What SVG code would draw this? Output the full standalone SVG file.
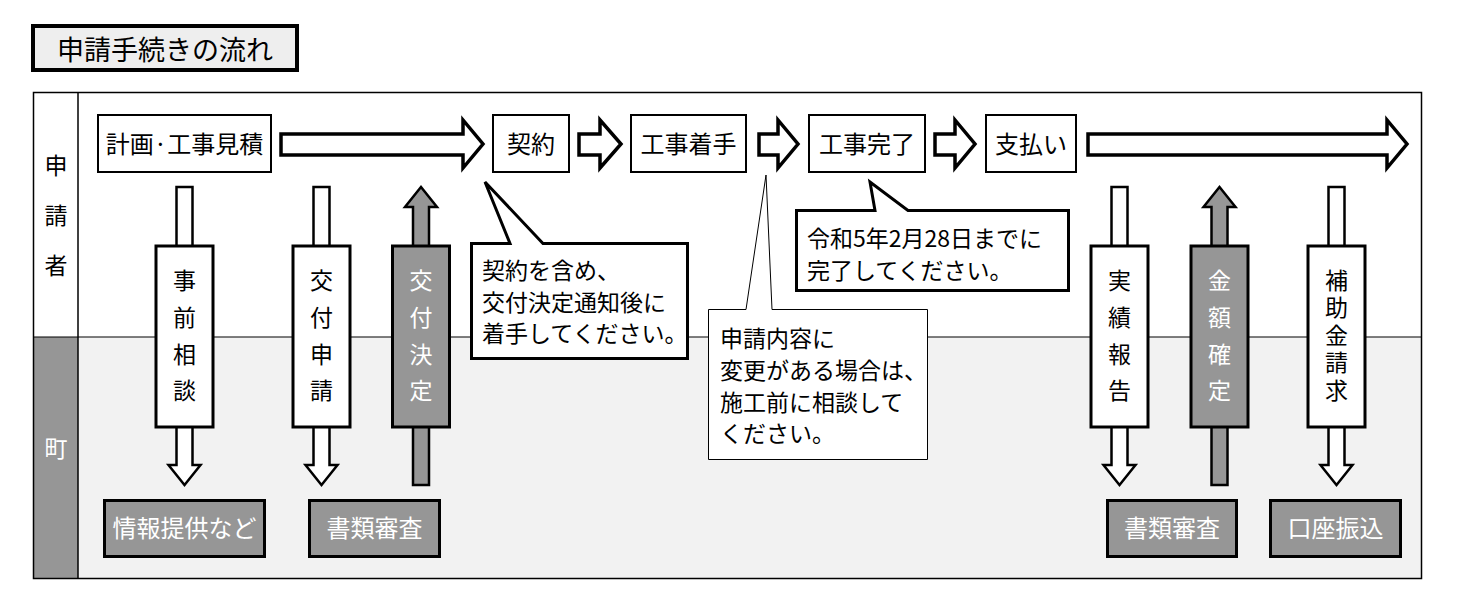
<svg xmlns="http://www.w3.org/2000/svg" width="1457" height="597" viewBox="0 0 1457 597">
<style>
text{font-family:"Noto Sans CJK JP","Noto Sans CJK SC",sans-serif;fill:#000}
.c{text-anchor:middle}
.w{fill:#fff}
.box{fill:#fff;stroke:#000;stroke-width:2}
.vbox{fill:#fff;stroke:#000;stroke-width:3}
.gbox{fill:#969696;stroke:#000;stroke-width:3}
.harr{fill:#fff;stroke:#000;stroke-width:3.5;stroke-linejoin:miter}
.darr{fill:#fff;stroke:#000;stroke-width:2.5;stroke-linejoin:miter}
.uarr{fill:#969696;stroke:#000;stroke-width:2.5;stroke-linejoin:miter}
.call{fill:#fff;stroke:#000;stroke-width:3;stroke-linejoin:miter}
.f24{font-size:24px}
.f23{font-size:23px}
.vt{writing-mode:vertical-rl;text-orientation:upright}
</style>
<rect width="1457" height="597" fill="#fff"/>
<g id="title">
<rect x="33" y="26" width="264" height="44" fill="#eeeeee" stroke="#000" stroke-width="4"/>
<text x="165" y="60" class="c" font-size="27">申請手続きの流れ</text>
</g>
<g id="frame">
<rect x="78" y="337" width="1344" height="242" fill="#f2f2f2"/>
<rect x="33" y="337" width="45" height="242" fill="#969696"/>
<rect x="33.5" y="92.5" width="1388" height="486" fill="none" stroke="#000" stroke-width="1.5"/>
<line x1="78" y1="92" x2="78" y2="579" stroke="#000" stroke-width="1.5"/>
<line x1="33" y1="337" x2="1422" y2="337" stroke="#000" stroke-width="1.2"/>
<text x="56" y="174" class="c f23">申</text>
<text x="56" y="224" class="c f23">請</text>
<text x="56" y="274" class="c f23">者</text>
<text x="56" y="457" class="c f23 w">町</text>
</g>
<g id="connectors">
<polygon class="harr" points="281,134 463,134 463,120 483,144 463,168 463,155 281,155"/>
<polygon class="harr" points="579,134 600,134 600,120 621,144 600,168 600,155 579,155"/>
<polygon class="harr" points="759,134 778,134 778,120 798,144 778,168 778,155 759,155"/>
<polygon class="harr" points="935,134 955,134 955,120 975,144 955,168 955,155 935,155"/>
<polygon class="harr" points="1088,134 1387,134 1387,120 1407,144 1387,168 1387,155 1088,155"/>
<polygon class="darr" points="176.5,187 192.5,187 192.5,465 200.5,465 184.5,485 168.5,465 176.5,465"/>
<polygon class="darr" points="313.5,187 329.5,187 329.5,465 337.5,465 321.5,485 305.5,465 313.5,465"/>
<polygon class="uarr" points="413,485 429,485 429,207 437,207 421,187 405,207 413,207"/>
<polygon class="darr" points="1111.5,187 1127.5,187 1127.5,465 1135.5,465 1119.5,485 1103.5,465 1111.5,465"/>
<polygon class="uarr" points="1211.5,485 1227.5,485 1227.5,207 1235.5,207 1219.5,187 1203.5,207 1211.5,207"/>
<polygon class="darr" points="1328.5,187 1344.5,187 1344.5,465 1352.5,465 1336.5,485 1320.5,465 1328.5,465"/>
</g>
<g id="n-keikaku"><rect class="box" x="98" y="115" width="173" height="57"/><text x="184.5" y="153" class="c f24">計画·工事見積</text></g>
<g id="n-keiyaku"><rect class="box" x="493" y="115" width="76" height="57"/><text x="531" y="153" class="c f24">契約</text></g>
<g id="n-chakushu"><rect class="box" x="631" y="115" width="115" height="57"/><text x="688.5" y="153" class="c f24">工事着手</text></g>
<g id="n-kanryo"><rect class="box" x="809" y="115" width="116" height="57"/><text x="867" y="153" class="c f24">工事完了</text></g>
<g id="n-shiharai"><rect class="box" x="986" y="115" width="90" height="57"/><text x="1031" y="153" class="c f24">支払い</text></g>
<g id="n-jizen"><rect class="vbox" x="156" y="246" width="57" height="181"/>
<text class="c f23" x="184.5"><tspan x="184.5" y="289">事</tspan><tspan x="184.5" y="326">前</tspan><tspan x="184.5" y="363">相</tspan><tspan x="184.5" y="399">談</tspan></text></g>
<g id="n-kofushinsei"><rect class="vbox" x="293" y="246" width="57" height="181"/>
<text class="c f23" x="321.5"><tspan x="321.5" y="289">交</tspan><tspan x="321.5" y="326">付</tspan><tspan x="321.5" y="363">申</tspan><tspan x="321.5" y="399">請</tspan></text></g>
<g id="n-kofukettei"><rect class="gbox" x="392.5" y="246" width="57" height="181"/>
<text class="c f23 w" x="421"><tspan x="421" y="289">交</tspan><tspan x="421" y="326">付</tspan><tspan x="421" y="363">決</tspan><tspan x="421" y="399">定</tspan></text></g>
<g id="n-jisseki"><rect class="vbox" x="1091" y="246" width="57" height="181"/>
<text class="c f23" x="1119.5"><tspan x="1119.5" y="289">実</tspan><tspan x="1119.5" y="326">績</tspan><tspan x="1119.5" y="363">報</tspan><tspan x="1119.5" y="399">告</tspan></text></g>
<g id="n-kingaku"><rect class="gbox" x="1191" y="246" width="57" height="181"/>
<text class="c f23 w" x="1219.5"><tspan x="1219.5" y="289">金</tspan><tspan x="1219.5" y="326">額</tspan><tspan x="1219.5" y="363">確</tspan><tspan x="1219.5" y="399">定</tspan></text></g>
<g id="n-hojokin"><rect class="vbox" x="1308" y="246" width="57" height="181"/>
<text class="f23 vt" x="1336.5" y="268.5" letter-spacing="4.5">補助金請求</text></g>
<g id="n-joho"><rect class="gbox" x="104.5" y="500.5" width="160" height="56"/><text x="184.5" y="537" class="c f24 w">情報提供など</text></g>
<g id="n-shorui1"><rect class="gbox" x="309.5" y="500.5" width="130" height="56"/><text x="374.5" y="537" class="c f24 w">書類審査</text></g>
<g id="n-shorui2"><rect class="gbox" x="1107.5" y="500.5" width="129" height="56"/><text x="1172" y="537" class="c f24 w">書類審査</text></g>
<g id="n-koza"><rect class="gbox" x="1270.5" y="500.5" width="130" height="56"/><text x="1335.5" y="537" class="c f24 w">口座振込</text></g>
<g id="callout-keiyaku">
<path class="call" d="M471.5 243.5 H510 L485 182 L543 243.5 H687.5 V358.5 H471.5 Z"/>
<text class="f23"><tspan x="482" y="279">契約を含め、</tspan><tspan x="482" y="311">交付決定通知後に</tspan><tspan x="482" y="342">着手してください。</tspan></text>
</g>
<g id="callout-henko">
<path d="M708.5 309.5 H746 L766 175 L772 309.5 H927.5 V459.5 H708.5 Z" fill="#fff" stroke="#000" stroke-width="1"/>
<text class="f23"><tspan x="720" y="347">申請内容に</tspan><tspan x="720" y="379">変更がある場合は、</tspan><tspan x="720" y="411">施工前に相談して</tspan><tspan x="720" y="442">ください。</tspan></text>
</g>
<g id="callout-kanryo">
<path class="call" d="M796.5 210.5 H875 L870 182 L908 210.5 H1068.5 V290.5 H796.5 Z"/>
<text class="f23"><tspan x="807" y="247">令和5年2月28日までに</tspan><tspan x="807" y="279">完了してください。</tspan></text>
</g>
</svg>
